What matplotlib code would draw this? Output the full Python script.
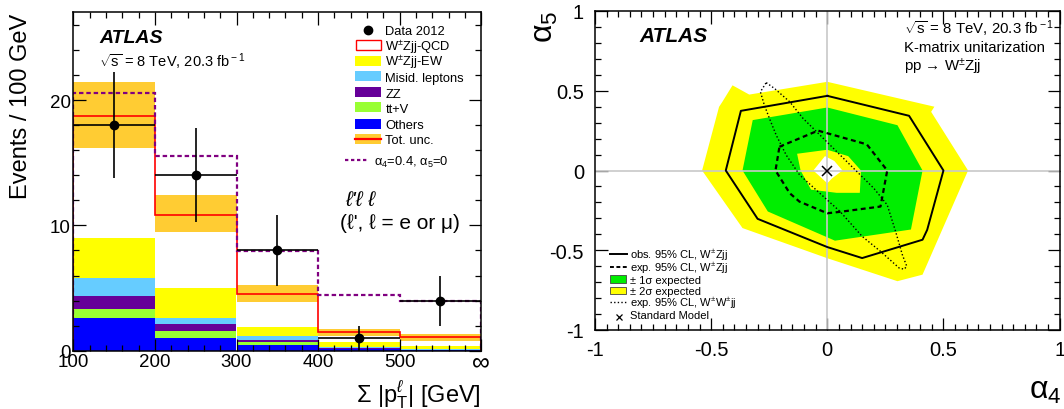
import numpy as np
import matplotlib
matplotlib.use('Agg')
import matplotlib.pyplot as plt
from matplotlib import transforms as mtransforms
from matplotlib.patches import Rectangle
from matplotlib.lines import Line2D
from matplotlib.ticker import MultipleLocator, FormatStrFormatter

plt.rcParams['font.family'] = ['Liberation Sans', 'DejaVu Sans']
plt.rcParams['mathtext.fontset'] = 'custom'
plt.rcParams['mathtext.rm'] = 'Liberation Sans'
plt.rcParams['mathtext.it'] = 'Liberation Sans:italic'
plt.rcParams['mathtext.bf'] = 'Liberation Sans:bold'
plt.rcParams['axes.unicode_minus'] = False
plt.rcParams['axes.linewidth'] = 1.1

# ---- left panel: sum pT distribution (events / 100 GeV) ----
bin_edges = [100, 200, 300, 400, 500, 600]
xtick_labels = ['100', '200', '300', '400', '500', '∞']
others = [2.61, 0.99, 0.48, 0.10, 0.04]
ttv = [0.72, 0.56, 0.24, 0.05, 0.02]
zz = [1.04, 0.58, 0.13, 0.05, 0.02]
misid = [1.43, 0.48, 0.35, 0.08, 0.04]
wz_ew = [3.17, 2.39, 0.67, 0.39, 0.23]
wz_qcd = [9.73, 5.85, 2.65, 0.80, 0.72]
unc_lo = [16.2, 9.5, 3.91, 1.2, 0.8]
unc_hi = [21.4, 12.45, 5.27, 1.73, 1.33]
aqgc = [20.6, 15.56, 7.98, 4.47, 3.99]
data = [18, 14, 8, 1, 4]
data_err = [4.24, 3.74, 2.83, 1.0, 2.0]

stack_labels = ['Data 2012', 'W$^{\\pm}$Zjj-QCD', 'W$^{\\pm}$Zjj-EW', 'Misid. leptons',
                'ZZ', 'tt+V', 'Others', 'Tot. unc.']

# ---- right panel: alpha4 / alpha5 limits ----
yel_a4 = [-0.539, -0.466, -0.452, -0.408, -0.336, 0.0, 0.461, 0.447, 0.606, 0.41, 0.302, 0.0, -0.365]
yel_a5 = [0.0, 0.399, 0.43, 0.534, 0.476, 0.556, 0.40, 0.368, 0.0, -0.653, -0.694, -0.55, -0.361]
grn_a4 = [-0.321, 0.0, 0.302, 0.41, 0.36, 0.033, -0.256, -0.365]
grn_a5 = [0.316, 0.395, 0.284, 0.0, -0.37, -0.44, -0.257, 0.0]
yin_a4 = [-0.13, 0.0, 0.09, 0.145, 0.14, 0.04, -0.07, -0.115]
yin_a5 = [0.105, 0.13, 0.09, 0.0, -0.14, -0.14, -0.12, 0.0]
wht_a4 = [-0.06, -0.01, 0.03, 0.065, 0.02, 0.0]
wht_a5 = [0.0, 0.09, 0.06, 0.0, -0.05, -0.08]
obs_a4 = [0.0, 0.352, 0.50, 0.43, 0.41, 0.15, 0.0, -0.30, -0.437, -0.372]
obs_a5 = [0.468, 0.343, 0.0, -0.372, -0.434, -0.549, -0.48, -0.303, 0.0, 0.374]
exp_a4 = [-0.206, -0.04, 0.17, 0.258, 0.229, 0.05, 0.0, -0.12, -0.162, -0.223]
exp_a5 = [0.149, 0.25, 0.164, 0.0, -0.226, -0.26, -0.268, -0.195, -0.142, 0.0]
ww_a4 = [-0.263, -0.227, -0.162, -0.104, -0.046, 0.113, 0.2, 0.258, 0.294, 0.323, 0.342,
         0.331, 0.309, 0.229, 0.15, 0.055, -0.032, -0.119, -0.177, -0.22, -0.249, -0.271, -0.288]
ww_a5 = [0.551, 0.514, 0.431, 0.326, 0.243, 0.014, -0.111, -0.216, -0.382, -0.528, -0.6,
         -0.619, -0.611, -0.507, -0.413, -0.257, -0.143, -0.028, 0.097, 0.222, 0.326, 0.41, 0.493]
sm_a4 = [0.0]
sm_a5 = [0.0]
lim_labels = ['obs. 95% CL, W$^{\\pm}$Zjj', 'exp. 95% CL, W$^{\\pm}$Zjj', '± 1σ expected',
              '± 2σ expected', 'exp. 95% CL, W$^{\\pm}$W$^{\\pm}$jj', 'Standard Model']

W, H = 1064, 410
fig = plt.figure(figsize=(W / 100, H / 100), dpi=100)
# pixel coordinates measured from the top-left corner of the image
pix = mtransforms.Affine2D().scale(1.0 / W, -1.0 / H).translate(0, 1) + fig.transFigure


def axes_px(left, top, right, bottom):
    return fig.add_axes([left / W, 1 - bottom / H, (right - left) / W, (bottom - top) / H])


def closed(a, b):
    return list(a) + [a[0]], list(b) + [b[0]]


ax1 = axes_px(73.3, 13.3, 481.3, 351.7)
ax2 = axes_px(595, 12, 1059.6, 331)

# ---------------- left panel ----------------
edges = np.array(bin_edges, dtype=float)
widths = np.diff(edges)
centers = 0.5 * (edges[:-1] + edges[1:])
colors = ['#0000ff', '#99ff33', '#660099', '#66ccff', '#ffff00', 'white']
bottom = np.zeros(len(data))
for vals, col in zip([others, ttv, zz, misid, wz_ew, wz_qcd], colors):
    ax1.bar(edges[:-1], vals, width=widths, bottom=bottom, align='edge', color=col, linewidth=0)
    bottom = bottom + np.array(vals)
ax1.stairs(unc_hi, edges, baseline=unc_lo, fill=True, color='#ffcc33', linewidth=0)
ax1.stairs(bottom, edges, baseline=0, color='red', linewidth=1.2)
ax1.stairs(aqgc, edges, baseline=0, color='#800080', linewidth=1.6, linestyle=(0, (2, 1.3)))
ax1.errorbar(centers, data, xerr=widths / 2, yerr=data_err, fmt='o', color='k', ms=6,
             elinewidth=1.2, capsize=0)

ax1.set_xlim(100, 600)
ax1.set_ylim(0, 27)
ax1.set_xticks(bin_edges)
ax1.set_xticklabels(xtick_labels)
ax1.xaxis.set_minor_locator(MultipleLocator(20))
ax1.set_yticks([0, 10, 20])
ax1.yaxis.set_minor_locator(MultipleLocator(2))
ax1.tick_params(which='both', direction='in', top=True, right=True, labelsize=13.5, pad=2)
ax1.tick_params(which='major', length=9, width=0.9)
ax1.tick_params(which='minor', length=4.5, width=0.9)
ax1.get_xticklabels()[-1].set_fontsize(18)
ax1.get_xticklabels()[-1].set_y(0.012)

fig.text(21, 14, 'Events / 100 GeV', rotation=90, ha='center', va='top', fontsize=17, transform=pix)
fig.text(481.3, 402, 'Σ |p$_{\\rm T}^{\\ell}$| [GeV]', ha='right', va='baseline', fontsize=17, transform=pix)
fig.text(99.3, 42.7, 'ATLAS', fontsize=14, fontweight='bold', fontstyle='italic', transform=pix)
fig.text(99.3, 67.7, '$\\sqrt{\\rm s}$ = 8 TeV, 20.3 fb$^{\\rm -1}$', fontsize=10.5, transform=pix)
fig.text(344.8, 206, "ℓ'ℓ ℓ", fontsize=15, fontstyle='italic', transform=pix)
fig.text(339.8, 229, "(ℓ', ℓ = e or μ)", fontsize=15, transform=pix)

# legend of left panel
rows = [30.7, 46, 61.5, 77, 93, 108.3, 124.7, 139.7]
fig.add_artist(Line2D([367.7], [rows[0]], marker='o', color='k', ms=6, transform=pix))
fig.add_artist(Rectangle((356, rows[1] - 4.8), 25, 9.6, facecolor='white', edgecolor='red', lw=1, transform=pix))
for r, col in zip(rows[2:7], ['#ffff00', '#66ccff', '#660099', '#99ff33', '#0000ff']):
    fig.add_artist(Rectangle((355, r - 5), 26, 10, facecolor=col, edgecolor='none', transform=pix))
fig.add_artist(Rectangle((355, rows[7] - 5), 26, 10, facecolor='#ffcc33', edgecolor='none', transform=pix))
fig.add_artist(Line2D([355, 381], [rows[7], rows[7]], color='red', lw=1.6, transform=pix))
for r, lab in zip(rows, stack_labels):
    fig.text(385.3, r + 4.6, lab, fontsize=9.3, va='baseline', transform=pix)
fig.add_artist(Line2D([345, 369], [161.3, 161.3], color='#800080', lw=1.6, ls=(0, (1.5, 1.2)), transform=pix))
fig.text(374.3, 165.5, 'α$_4$=0.4, α$_5$=0', fontsize=9.3, va='baseline', transform=pix)

# ---------------- right panel ----------------
ax2.fill(yel_a4, yel_a5, color='#ffff00', linewidth=0)
ax2.fill(grn_a4, grn_a5, color='#00ee00', linewidth=0)
ax2.fill(yin_a4, yin_a5, color='#ffff00', linewidth=0)
ax2.fill(wht_a4, wht_a5, color='white', linewidth=0)
ax2.axhline(0, color='#c8c8c8', lw=1.2)
ax2.axvline(0, color='#c8c8c8', lw=1.2)
ax2.plot(*closed(exp_a4, exp_a5), color='k', lw=1.6, ls=(0, (2.2, 1.6)))
ax2.plot(*closed(obs_a4, obs_a5), color='k', lw=1.4)
ax2.plot(*closed(ww_a4, ww_a5), color='k', lw=1.0, ls=(0, (1, 1.6)))
ax2.plot(sm_a4, sm_a5, marker='x', color='k', ms=7, mew=1.1, ls='none')

ax2.set_xlim(-1, 1)
ax2.set_ylim(-1, 1)
ax2.xaxis.set_major_locator(MultipleLocator(0.5))
ax2.xaxis.set_minor_locator(MultipleLocator(0.05))
ax2.yaxis.set_major_locator(MultipleLocator(0.5))
ax2.yaxis.set_minor_locator(MultipleLocator(0.1))
ax2.xaxis.set_major_formatter(FormatStrFormatter('%g'))
ax2.yaxis.set_major_formatter(FormatStrFormatter('%g'))
ax2.tick_params(which='both', direction='in', top=True, right=True, labelsize=14.5)
ax2.tick_params(which='major', length=9, width=0.9)
ax2.tick_params(which='minor', length=4, width=0.9)
ax2.tick_params(axis='x', pad=7)
ax2.tick_params(axis='y', pad=8)

fig.text(1062, 391, 'α$_4$', ha='right', va='center', fontsize=23, transform=pix)
fig.text(545, 11, 'α$_5$', rotation=90, ha='center', va='top', fontsize=23, transform=pix)
fig.text(639, 42.5, 'ATLAS', fontsize=15, fontweight='bold', fontstyle='italic', transform=pix)
fig.text(904, 34, '$\\sqrt{\\rm s}$ = 8 TeV, 20.3 fb$^{\\rm -1}$', fontsize=10.8, transform=pix)
fig.text(904, 52, 'K-matrix unitarization', fontsize=10.8, transform=pix)
fig.text(904, 71, 'pp → W$^{\\pm}$Zjj', fontsize=10.8, transform=pix)

# legend of right panel
lrows = [255.3, 267.8, 279.8, 291.5, 303.2, 315.5]
fig.add_artist(Line2D([610, 626.7], [lrows[0]] * 2, color='k', lw=1.4, transform=pix))
fig.add_artist(Line2D([610, 626.7], [lrows[1]] * 2, color='k', lw=1.4, ls=(0, (2, 1.3)), transform=pix))
fig.add_artist(Rectangle((609.5, lrows[2] - 3.8), 16, 7.6, facecolor='#00ee00', edgecolor='#444444', lw=0.6, transform=pix))
fig.add_artist(Rectangle((609.5, lrows[3] - 3.8), 16, 7.6, facecolor='#ffff00', edgecolor='#444444', lw=0.6, transform=pix))
fig.add_artist(Line2D([610, 626.7], [lrows[4]] * 2, color='k', lw=1.0, ls=(0, (1, 1.6)), transform=pix))
fig.add_artist(Line2D([619], [lrows[5] + 2], marker='x', color='k', ms=5, mew=0.9, transform=pix))
for r, lab in zip(lrows, lim_labels):
    fig.text(630, r + 4, lab, fontsize=8.0, va='baseline', transform=pix)

fig.savefig('out.png', dpi=100)
